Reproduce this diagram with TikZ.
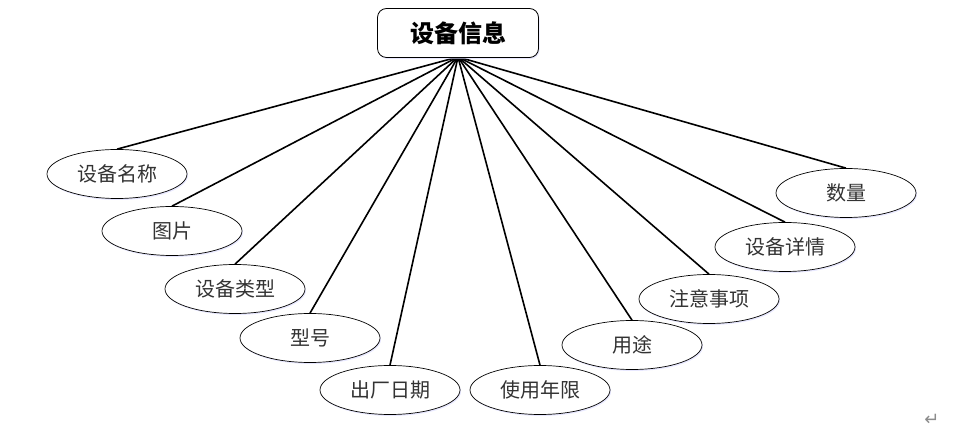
\documentclass[tikz,border=0pt]{standalone}
\usepackage{fontspec}
\newfontfamily\cjk{Noto Sans CJK SC}
\newfontfamily\dejavu{DejaVu Sans}
\usetikzlibrary{shapes.geometric,shadows}
\begin{document}
\begin{tikzpicture}[x=1pt,y=-1pt,
  attr/.style={ellipse,draw,line width=0.7pt,fill=white,minimum width=140pt,minimum height=49pt,inner sep=0pt,
    font=\cjk\fontsize{20}{20}\selectfont,text=black!80,
    drop shadow={shadow xshift=1pt,shadow yshift=-1.5pt,fill=blue!15,opacity=0.6}},
  ent/.style={rectangle,rounded corners=9pt,draw,line width=0.8pt,fill=white,minimum width=161pt,minimum height=49pt,
    font=\cjk\fontsize{24}{24}\selectfont\bfseries,
    drop shadow={shadow xshift=1pt,shadow yshift=-1.5pt,fill=blue!15,opacity=0.6}},
  link/.style={line width=1.6pt,black}]
\useasboundingbox (0,0) rectangle (956,435);
\coordinate (hub) at (458,57);
\node[attr] (a1) at (117,174) {设备名称};
\node[attr] (a2) at (172,231) {图片};
\node[attr] (a3) at (235,289) {设备类型};
\node[attr] (a4) at (310,338) {型号};
\node[attr] (a5) at (390,390) {出厂日期};
\node[attr] (a6) at (540,390) {使用年限};
\node[attr] (a7) at (632,345) {用途};
\node[attr] (a8) at (709,299) {注意事项};
\node[attr] (a9) at (785,247) {设备详情};
\node[attr] (a10) at (846,193) {数量};
\foreach \i in {1,...,10} {\draw[link] (hub) -- (a\i.north);}
\node[ent] (top) at (458,33) {设备信息};
\node[font=\dejavu\fontsize{18}{18}\selectfont,text=black!45] (ret) at (932,420) {↵};
\end{tikzpicture}
\end{document}
